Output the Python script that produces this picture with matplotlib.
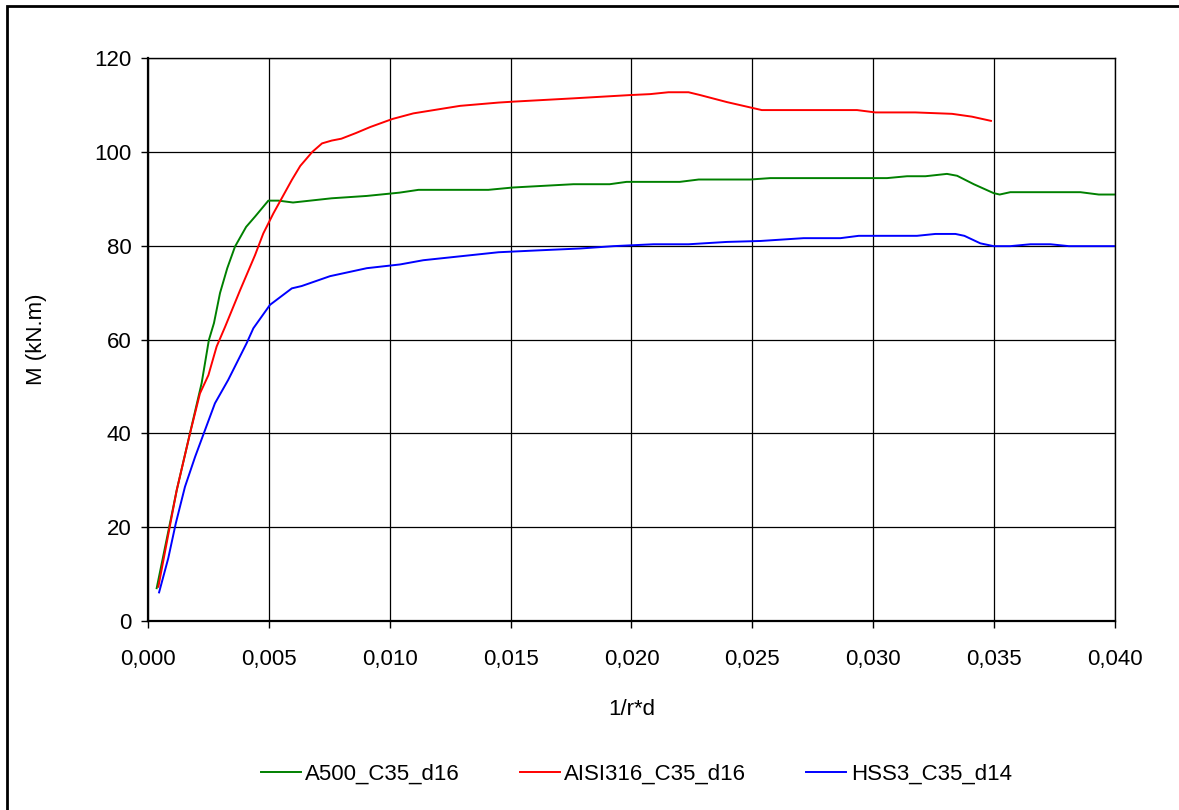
"""
Moment-curvature curves for three reinforcement steels (C35 concrete).
"""

import matplotlib
matplotlib.use("Agg")
import matplotlib.pyplot as plt
import matplotlib.ticker as mticker
from matplotlib.patches import Rectangle

# -- Data --------------------------------------------------------------------
a500_x = [0.00036, 0.00119, 0.0018, 0.00222, 0.00252, 0.00273, 0.00298,
          0.00328, 0.0036, 0.00406, 0.00443, 0.00498, 0.0054, 0.0060,
          0.0076, 0.00905, 0.0104, 0.01119, 0.01408, 0.0151, 0.0176,
          0.0191, 0.0198, 0.0220, 0.02278, 0.02491, 0.02574, 0.03057,
          0.0314, 0.03216, 0.03305, 0.03347, 0.03416, 0.03498, 0.03523,
          0.03567, 0.03857, 0.03933, 0.0401]
a500_m = [7.0, 27.9, 41.4, 50.7, 59.9, 63.5, 69.9,
          75.2, 79.8, 84.0, 86.2, 89.6, 89.6, 89.2,
          90.1, 90.6, 91.3, 91.9, 91.9, 92.4, 93.1,
          93.1, 93.6, 93.6, 94.1, 94.1, 94.4, 94.4,
          94.8, 94.8, 95.3, 94.9, 93.1, 91.2, 90.9,
          91.4, 91.4, 90.9, 90.9]

aisi_x = [0.00043, 0.00119, 0.00174, 0.00215, 0.0025, 0.00284, 0.00319,
          0.00381, 0.00443, 0.00477, 0.00519, 0.00595, 0.0063, 0.0068,
          0.0072, 0.0076, 0.0080, 0.0086, 0.0092, 0.01011, 0.01098,
          0.01291, 0.0145, 0.01512, 0.0176, 0.01995, 0.02077, 0.02153,
          0.02236, 0.02284, 0.02395, 0.02539, 0.02933, 0.03009, 0.03174,
          0.03326, 0.03408, 0.03487]
aisi_m = [7.3, 27.9, 40.0, 48.5, 52.4, 58.5, 62.7,
          70.5, 78.0, 82.6, 86.9, 94.0, 97.0, 100.0,
          101.8, 102.4, 102.8, 104.0, 105.3, 107.0, 108.2,
          109.8, 110.5, 110.7, 111.4, 112.1, 112.3, 112.7,
          112.7, 112.1, 110.6, 108.9, 108.9, 108.4, 108.4,
          108.1, 107.5, 106.6]

hss_x = [0.00046, 0.00084, 0.00115, 0.00153, 0.00195, 0.00236, 0.00277,
         0.00332, 0.00408, 0.00436, 0.00505, 0.00595, 0.00636, 0.00753,
         0.00905, 0.01043, 0.01139, 0.0145, 0.01615, 0.01788, 0.01926,
         0.02091, 0.02236, 0.02395, 0.02533, 0.02712, 0.02864, 0.0294,
         0.03181, 0.03257, 0.0334, 0.03377, 0.03443, 0.03498, 0.03567,
         0.0365, 0.03733, 0.03809, 0.0401]
hss_m = [6.1, 13.4, 20.8, 28.6, 35.0, 40.7, 46.4,
         51.4, 59.2, 62.4, 67.4, 70.9, 71.4, 73.5,
         75.2, 76.0, 76.9, 78.6, 79.0, 79.4, 79.9,
         80.3, 80.3, 80.8, 81.0, 81.6, 81.6, 82.1,
         82.1, 82.5, 82.5, 82.1, 80.5, 79.9, 79.9,
         80.3, 80.3, 79.9, 79.9]

# -- Plot --------------------------------------------------------------------
plt.rcParams["font.family"] = ["Liberation Sans", "DejaVu Sans"]
FS = 16

fig = plt.figure(figsize=(11.79, 8.10), dpi=100)
ax = fig.add_axes([0.1255, 0.2333, 0.8202, 0.6951])

ax.plot(a500_x, a500_m, color="#008000", lw=1.4, label="A500_C35_d16")
ax.plot(aisi_x, aisi_m, color="#ff0000", lw=1.4, label="AISI316_C35_d16")
ax.plot(hss_x, hss_m, color="#0000ff", lw=1.4, label="HSS3_C35_d14")

ax.set_xlim(0, 0.040)
ax.set_ylim(0, 120)
ax.xaxis.set_major_locator(mticker.MultipleLocator(0.005))
ax.yaxis.set_major_locator(mticker.MultipleLocator(20))
ax.xaxis.set_major_formatter(
    mticker.FuncFormatter(lambda v, p: f"{v:.3f}".replace(".", ",")))

ax.grid(True, color="black", lw=0.9)
ax.set_axisbelow(True)
for s in ax.spines.values():
    s.set_color("black")
    s.set_linewidth(1.0)
ax.spines["left"].set_linewidth(1.6)
ax.spines["bottom"].set_linewidth(1.6)

ax.tick_params(direction="out", length=5, width=1, labelsize=FS,
               colors="black")
ax.tick_params(axis="x", pad=15)
ax.tick_params(axis="y", pad=7)

ax.set_xlabel("1/r*d", fontsize=FS, labelpad=21)
ax.set_ylabel("M (kN.m)", fontsize=FS, labelpad=34)

ax.legend(loc="center", bbox_to_anchor=(0.505, -0.272), ncol=3, frameon=False,
          fontsize=FS, handlelength=1.8, columnspacing=2.7, handletextpad=0.2)

# outer frame of the chart area
fig.patches.append(Rectangle((7 / 1179, -0.05), 1.1, 1.05 - 6 / 810,
                             transform=fig.transFigure, fill=False,
                             edgecolor="black", lw=2, zorder=0))

fig.savefig("out.png", dpi=100, facecolor="white")
plt.close(fig)
